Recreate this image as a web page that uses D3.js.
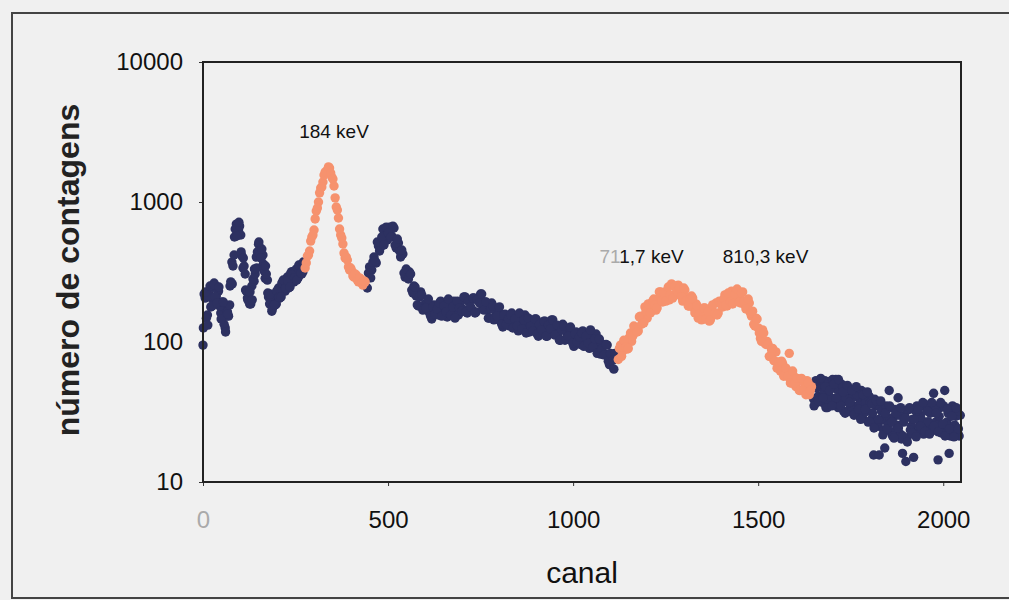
<!DOCTYPE html>
<html lang="pt">
<head>
<meta charset="UTF-8" />
<title>Espectro</title>
<script src="https://d3js.org/d3.v7.min.js"></script>
<style>
  body { margin: 0; background: #f0f0f0; }
  svg { display: block; font-family: "Liberation Sans", Arial, sans-serif; }
  .tick text { font-size: 24px; fill: #111; }
  .tick line { stroke: #333; }
</style>
</head>
<body>
<div id="chart"></div>
<script>
// canal step between stored points
var passo = 6;

var xTicks = [0, 500, 1000, 1500, 2000];
var yTicks = [10, 100, 1000, 10000];

// counts, one value every `passo` channels
// (the "b"/"c" arrays hold the channels in between)
var azul1 = [95,206,156,235,206,264,213,231,161,177,126,164,184,372,418,695,631,581,338,306,
  206,187,251,272,404,500,410,418,285,277,187,166,210,187,243,217,269,231,291,260,318,269,332,291,355,318];
var azul1b = [220,148,213,178,251,210,247,181,193,134,153,153,269,349,641,652,673,412,349,231,
  231,187,282,306,440,432,462,322,306,210,213,178,184,231,206,264,235,282,243,311,269,322,282,349,306,361];
var azul1c = [126,228,132,251,181,255,190,247,146,193,118,158,251,260,562,572,716,440,398,235,
  200,228,200,332,338,518,398,361,349,224,220,172,184,231,210,210,277,243,273,247,301,287,277,355,311,373];
var laranja1 = [338,411,447,562,631,863,1000,1259,1389,1638,1693,1750,1509,1301,921,769,581,501,398,385,
  327,322,291,301,269,282,255,269];
var laranja1b = [367,418,526,581,757,905,1162,1279,1560,1638,1780,1612,1460,1071,877,641,553,432,405,344,
  338,296,306,277,287,264,273];
var azul2 = [243,344,327,405,367,485,477,641,572,535,662,572,652,469,509,405,425,291,316,316,
  235,251,213,181,228,169,187,193,161,146,184,172,156,196,166,187,151,178,156,196,
  169,156,193,172,210,161,193,172,206,164,203,220,175,193,169,148,190,144,161,169,
  141,128,158,146,130,161,134,148,120,141,126,156,130,118,141,122,146,110,132,118,
  141,110,132,144,114,130,116,103,134,103,116,122,103,93,118,108,96,120,101,112,
  90,106,92,114,93,82,96,82,95,69,81,64,79];
var azul2b = [311,287,373,379,518,447,562,493,662,600,562,673,493,544,447,454,311,332,282,306,
  224,247,184,210,217,172,175,203,153,178,158,172,190,153,181,164,203,156,178,148,
  196,175,166,210,164,196,178,206,161,200,190,220,169,193,148,172,181,148,153,178,
  134,156,134,146,156,126,146,130,161,124,144,116,148,130,120,146,114,134,122,141,
  110,132,124,144,112,132,103,122,130,106,110,128,98,114,100,108,116,93,110,98,
  122,92,105,83,105,89,81,96,73,83,74,83];
var laranja2 = [75,95,86,101,89,108,101,130,122,120,153,141,178,148,184,169,203,169,203,228,
  193,228,213,200,260,213,243,255,217,196,235,206,181,213,175,187,148,169,146,175,
  151,141,175,158,190,161,193,178,217,181,210,231,196,231,210,190,228,184,196,190,
  153,134,148,126,106,122,98,101,79,88,74,85,70,62,70,65,57,83,51,57,
  48,54,45,52,45,53,42,48];
var laranja2b = [90,79,103,92,90,116,110,126,118,151,134,137,166,187,161,196,184,175,228,196,
  224,196,247,217,206,251,231,243,210,243,196,181,203,206,161,181,158,144,175,146,
  164,144,184,161,156,196,184,203,184,224,193,187,220,239,193,224,196,172,203,161,
  166,130,146,116,101,116,96,96,79,90,73,65,72,73,57,65,57,51,62,51,
  55,45,55,46,42,51,45];
var azul3 = [39,53,41,48,37,53,42,37,48,39,54,34,43,37,47,38,32,44,35,45,
  32,38,28.5,40,32,41,28,15.6,35,25,34,27.7,17.5,33,45,22.4,29,23.5,40,22,
  16,30,20.6,33,25,15,32,22.8,30,24.3,36,26,34,23,43,26.8,14.4,34,23.5,45,
  26.8,16,34,23,29.5,22,30];
var azul3b = [48,37,51,40,45,34,52,40,54,36,46,39,50,32,40,47,34,40,31,42,
  35,45,31,37,26.8,37,31,39,27,15.6,32,23.5,35,25.5,28.5,21.3,33,25.5,30,20.3,
  26.8,14,33,23.5,28,21.7,35,25,28,22,35,27,31,24,35,25.5,29.5,22.4,35,26,
  31,21.3,35,25.5,32,21.3];
var azul3c = [35,47,38,55,40,48,34,45,35,50,40,54,35,44,31,49,37,45,30,48,
  33,28,42,33,44,27,36,24.3,38,28,38,21.7,31,24,35,26.8,20.6,31,24.3,34,
  21.3,28.5,19.3,34,22.4,28,21,33,25,37,23,32,22,37,25,31,22.8,37,26,21.3,
  33,24,29.5,21,34,24];

var azul = "#2d3161", laranja = "#f6926e";

var series = [
  { valores: azul1, inicio: 0, cor: azul },
  { valores: azul1b, inicio: 3, cor: azul },
  { valores: azul1c, inicio: 1, cor: azul },
  { valores: azul2, inicio: 444, cor: azul },
  { valores: azul2b, inicio: 447, cor: azul },
  { valores: azul3, inicio: 1650, cor: azul },
  { valores: azul3b, inicio: 1653, cor: azul },
  { valores: azul3c, inicio: 1651, cor: azul },
  { valores: laranja1, inicio: 276, cor: laranja },
  { valores: laranja1b, inicio: 279, cor: laranja },
  { valores: laranja2, inicio: 1122, cor: laranja },
  { valores: laranja2b, inicio: 1125, cor: laranja }
];

var anotacoes = [
  { texto: ["", "184 keV"], canal: 354, contagens: 2870 },
  { texto: ["71", "1,7 keV"], canal: 1185, contagens: 367 },
  { texto: ["", "810,3 keV"], canal: 1520, contagens: 367 }
];

var W = 1009, H = 600;
var margin = { top: 62, right: 48, bottom: 118, left: 203 };
var width = W - margin.left - margin.right,
  height = H - margin.top - margin.bottom;

var svg = d3.select("#chart").append("svg").attr("width", W).attr("height", H);

// outer frame
svg.append("rect")
  .attr("x", 12).attr("y", 13).attr("width", 1010).attr("height", 585)
  .attr("fill", "none").attr("stroke", "#444").attr("stroke-width", 2);

var g = svg.append("g").attr("transform", "translate(" + margin.left + "," + margin.top + ")");

var x = d3.scaleLinear().domain([0, 2048]).range([0, width]);
var y = d3.scaleLog().domain([10, 10000]).range([height, 0]);

var xAxis = g.append("g")
  .attr("transform", "translate(0," + height + ")")
  .call(d3.axisBottom(x).tickValues(xTicks).tickSize(4).tickPadding(25).tickFormat(d3.format("d")));
xAxis.select(".domain").remove();
xAxis.selectAll(".tick text").filter(function (d) { return d === 0; }).style("fill", "#aaa");

var yAxis = g.append("g")
  .call(d3.axisLeft(y).tickValues(yTicks).tickSize(4).tickPadding(16).tickFormat(d3.format("d")));
yAxis.select(".domain").remove();

// points
series.forEach(function (s) {
  g.append("g")
    .selectAll("circle")
    .data(s.valores.map(function (v, i) { return { canal: s.inicio + i * passo, n: v }; }))
    .enter()
    .append("circle")
    .attr("cx", function (d) { return x(d.canal); })
    .attr("cy", function (d) { return y(d.n); })
    .attr("r", 4.7)
    .attr("fill", s.cor);
});

// plot frame
g.append("rect")
  .attr("width", width).attr("height", height)
  .attr("fill", "none").attr("stroke", "#222").attr("stroke-width", 2);

// peak labels
anotacoes.forEach(function (a) {
  var t = g.append("text")
    .attr("x", x(a.canal)).attr("y", y(a.contagens))
    .attr("text-anchor", "middle")
    .style("font-size", "19px");
  t.append("tspan").attr("fill", "#aaa").text(a.texto[0]);
  t.append("tspan").attr("fill", "#111").text(a.texto[1]);
});

// axis titles
svg.append("text")
  .attr("x", 582).attr("y", 583)
  .attr("text-anchor", "middle")
  .style("font-size", "30px").attr("fill", "#111")
  .text("canal");

svg.append("text")
  .attr("transform", "translate(79,270) rotate(-90)")
  .attr("text-anchor", "middle")
  .style("font-size", "32px").style("font-weight", "bold").attr("fill", "#222")
  .text("número de contagens");
</script>
</body>
</html>
